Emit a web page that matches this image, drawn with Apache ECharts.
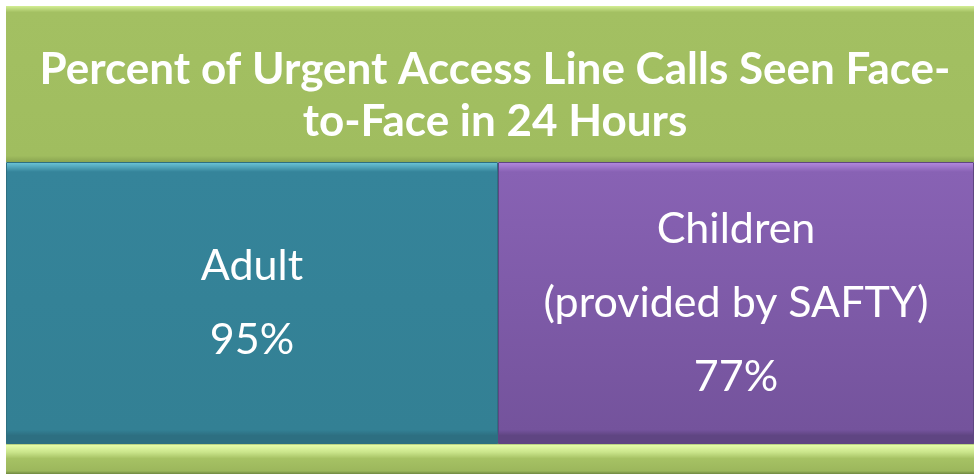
<!DOCTYPE html>
<html>
<head>
<meta charset="utf-8">
<script src="https://cdn.jsdelivr.net/npm/echarts@6/dist/echarts.min.js"></script>
<style>
  html, body { margin: 0; padding: 0; background: #fff; }
  #chart { width: 974px; height: 475px; }
</style>
</head>
<body>
<div id="chart"></div>
<script>
// data
const categories = ["Adult", "Children"];
const subLabels = ["", "(provided by SAFTY)"];
const percents = [95, 77];
const titleText = "Percent of Urgent Access Line Calls Seen Face-\nto-Face in 24 Hours";

// tile colours (top highlight -> body -> bottom)
const tileColors = [
  ["#6fc8db", "#35849a", "#338094", "#2d6f81"],
  ["#b58be0", "#8862b4", "#74539c", "#5f4582"]
];

const chart = echarts.init(document.getElementById("chart"));

// two tiles, each in its own grid so widths match the picture
const grids = [
  { left: 6, top: 162, width: 492, bottom: 31 },
  { left: 498, top: 162, right: 0, bottom: 31 }
];

function tileGradient(c) {
  return new echarts.graphic.LinearGradient(0, 0, 0, 1, [
    { offset: 0, color: c[0] },
    { offset: 0.035, color: c[1] },
    { offset: 0.95, color: c[2] },
    { offset: 0.97, color: c[3] },
    { offset: 1, color: c[3] }
  ]);
}

const option = {
  backgroundColor: "#fff",
  animation: false,
  title: {
    text: titleText,
    left: 495,
    top: 44,
    padding: 0,
    textAlign: "center",
    textStyle: {
      color: "#fff",
      fontFamily: "Lato",
      fontWeight: "bold",
      fontSize: 44,
      lineHeight: 52
    }
  },
  graphic: [
    {
      type: "rect",
      z: -1,
      shape: { x: 6, y: 6, width: 968, height: 156 },
      style: {
        fill: new echarts.graphic.LinearGradient(0, 0, 0, 1, [
          { offset: 0, color: "#d3ee94" },
          { offset: 0.04, color: "#a3c062" },
          { offset: 0.96, color: "#a0bd5f" },
          { offset: 1, color: "#8aa551" }
        ])
      }
    },
    {
      type: "rect",
      z: -1,
      shape: { x: 6, y: 443, width: 968, height: 31 },
      style: {
        fill: new echarts.graphic.LinearGradient(0, 0, 0, 1, [
          { offset: 0, color: "#7c9648" },
          { offset: 0.08, color: "#e4fba8" },
          { offset: 0.3, color: "#c9e48a" },
          { offset: 0.5, color: "#a6c264" },
          { offset: 0.9, color: "#9cb75c" },
          { offset: 1, color: "#6f8840" }
        ])
      }
    }
  ],
  grid: grids,
  xAxis: categories.map((c, i) => ({
    type: "category",
    gridIndex: i,
    data: [c],
    show: false
  })),
  yAxis: categories.map((c, i) => ({
    type: "value",
    gridIndex: i,
    min: 0,
    max: "dataMax",
    show: false
  })),
  series: categories.map((c, i) => ({
    type: "bar",
    name: c,
    xAxisIndex: i,
    yAxisIndex: i,
    barWidth: "100%",
    data: [percents[i]],
    itemStyle: {
      color: tileGradient(tileColors[i]),
      borderColor: tileColors[i][3],
      borderWidth: 1
    },
    label: {
      show: true,
      position: "inside",
      color: "#fff",
      fontFamily: "Lato",
      fontSize: 43,
      lineHeight: 74,
      formatter: () =>
        [c, subLabels[i], percents[i] + "%"].filter((s) => s).join("\n")
    }
  }))
};

chart.setOption(option);
</script>
</body>
</html>
